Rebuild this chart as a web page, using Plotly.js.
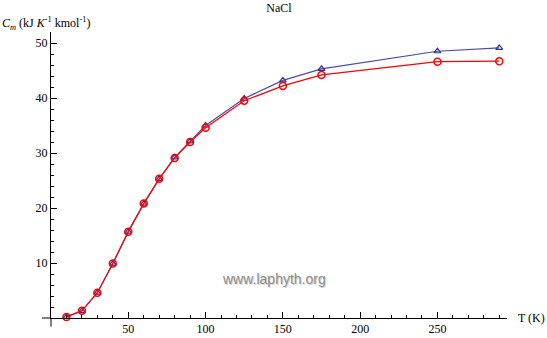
<!DOCTYPE html>
<html><head><meta charset="utf-8">
<script src="https://cdn.plot.ly/plotly-3.0.1.min.js"></script>
<style>body{margin:0;background:#fff}#c{width:547px;height:338px}</style>
</head><body><div id="c"></div>
<script>
const T = [10, 20, 30, 40, 50, 60, 70, 80, 90, 100, 125, 150, 175, 250, 290];
const cmRed = [0.2, 1.3, 4.6, 9.9, 15.7, 20.8, 25.3, 29.1, 32.0, 34.6, 39.5, 42.2, 44.2, 46.6, 46.7];
const cmBlue = [0.2, 1.3, 4.6, 9.9, 15.7, 20.8, 25.3, 29.2, 32.1, 35.0, 39.9, 43.2, 45.3, 48.5, 49.1];
const xTicks = [50, 100, 150, 200, 250];
const yTicks = [10, 20, 30, 40, 50];

const serif = "Liberation Serif, Times New Roman, serif";
const traces = [
  {x: T, y: cmBlue, type: 'scatter', mode: 'lines+markers', cliponaxis: false,
   line: {color: 'rgb(75,75,165)', width: 1.2},
   marker: {symbol: 'triangle-up-open', size: 6, color: 'rgb(50,50,150)', line: {width: 1.2}}},
  {x: T, y: cmRed, type: 'scatter', mode: 'lines+markers', cliponaxis: false,
   line: {color: 'rgb(255,0,0)', width: 1.2},
   marker: {symbol: 'circle-open', size: 7, color: 'rgb(255,0,0)', line: {width: 1.5}}}
];
const layout = {
  width: 547, height: 338, showlegend: false,
  paper_bgcolor: '#fff', plot_bgcolor: '#fff',
  margin: {l: 51, r: 40, t: 32, b: 20},
  font: {family: serif, size: 12, color: '#000'},
  title: {text: 'NaCl', x: 0.5, xref: 'paper', xanchor: 'center', y: 0.977, yref: 'container', yanchor: 'middle', font: {family: serif, size: 12, color: '#000'}},
  xaxis: {range: [0, 295], showgrid: false, zeroline: false, showline: true, linecolor: '#000', linewidth: 1,
          tickvals: xTicks, ticktext: xTicks.map(String), ticks: 'inside', ticklen: 6, tickcolor: '#000', tickwidth: 1,
          minor: {dtick: 10, tick0: 0, ticks: 'inside', ticklen: 3, tickcolor: '#000', showgrid: false},
          tickfont: {family: serif, size: 12}},
  yaxis: {range: [0, 52], showgrid: false, zeroline: false, showline: true, linecolor: '#000', linewidth: 1,
          tickvals: yTicks, ticktext: yTicks.map(String), ticks: 'inside', ticklen: 6, tickcolor: '#000', tickwidth: 1,
          minor: {dtick: 2, tick0: 0, ticks: 'inside', ticklen: 3, tickcolor: '#000', showgrid: false},
          tickfont: {family: serif, size: 12}},
  shapes: [
    {type: 'line', xref: 'paper', yref: 'paper', x0: 0, x1: -0.02, y0: 0, y1: 0, line: {color: '#000', width: 1}},
    {type: 'line', xref: 'paper', yref: 'paper', x0: 0, x1: 0, y0: 0, y1: -0.03, line: {color: '#000', width: 1}}
  ],
  annotations: [
    {text: '<i>C</i><sub><i>m</i></sub> (kJ <i>K</i><sup>-1</sup> kmol<sup>-1</sup>)', xref: 'paper', yref: 'paper',
     x: -0.112, y: 1.031, xanchor: 'left', yanchor: 'middle', showarrow: false, font: {family: serif, size: 12}},
    {text: 'T (K)', xref: 'paper', yref: 'paper', x: 1.02, y: 0, xanchor: 'left', yanchor: 'middle', showarrow: false, font: {family: serif, size: 12}},
    {text: 'www.laphyth.org', xref: 'paper', yref: 'paper', x: 0.49, y: 0.135, xanchor: 'center', yanchor: 'middle', showarrow: false,
     font: {family: 'Liberation Sans, Arial, sans-serif', size: 14, color: 'rgb(215,215,215)'}, xshift: 1, yshift: -1},
    {text: 'www.laphyth.org', xref: 'paper', yref: 'paper', x: 0.49, y: 0.135, xanchor: 'center', yanchor: 'middle', showarrow: false,
     font: {family: 'Liberation Sans, Arial, sans-serif', size: 14, color: 'rgb(140,140,140)'}}
  ]
};
Plotly.newPlot('c', traces, layout, {displayModeBar: false, staticPlot: true});
</script></body></html>
